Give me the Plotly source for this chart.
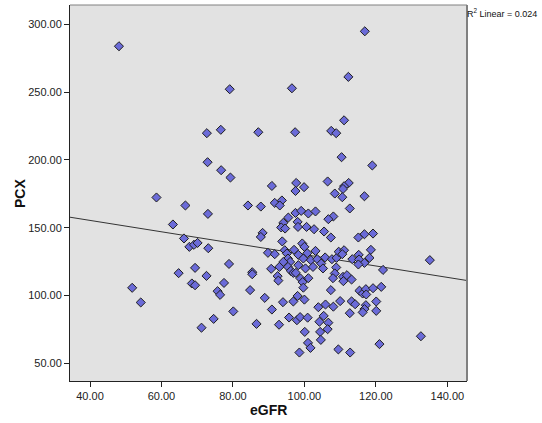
import plotly.graph_objects as go

# eGFR (x) and PCX (y) values
egfr = [48.1, 116.9, 79.1, 96.5, 112.3, 72.7, 76.6, 87.1, 97.4, 107.5, 108.9, 111.1,
        72.9, 76.7, 79.3, 110.4, 119.0, 90.9, 97.7, 97.5, 99.9, 106.5, 108.5, 112.4,
        111.1, 110.8, 110.6, 116.8, 58.6,
        84.2, 87.8, 91.7, 93.7, 93.1, 66.7, 112.7, 97.5, 99.1, 101.1, 103.1, 108.1,
        106.7, 95.5, 73.0, 63.2, 94.1, 98.1, 93.5, 94.6, 98.2, 100.6, 102.7, 105.5,
        107.4, 88.3, 87.8, 119.2, 116.8, 115.1, 66.3, 67.8, 69.1, 70.1, 73.1, 93.8,
        99.4, 100.0, 97.1, 94.5, 103.1, 89.8, 91.7, 95.1, 98.3, 100.8, 95.4, 99.7,
        101.8, 103.6, 105.8, 107.7, 109.0, 109.6, 118.6, 111.1, 110.6, 115.2, 113.4,
        115.3, 118.2, 116.8, 115.1, 135.1, 122.0, 108.9, 108.5, 108.0, 110.8, 111.9,
        113.2, 110.9, 96.0, 94.1, 93.0, 90.7, 95.4, 96.2, 96.9, 98.3, 100.3, 102.4,
        104.7, 105.2, 85.4, 85.4, 92.5, 97.6, 101.1, 98.9, 92.7, 99.5, 99.7, 84.8,
        107.4, 78.9, 64.8, 69.4, 72.6, 68.5, 69.4, 77.5, 51.8, 115.4, 116.3, 117.2,
        117.3, 119.2, 121.5,
        54.2, 75.7, 76.4, 80.1, 74.6, 71.2, 88.9, 90.9, 94.0, 86.6, 92.9, 95.7, 96.9,
        98.1, 100.0, 97.9, 98.8, 100.9, 100.1, 101.0, 101.7, 98.6, 103.9, 105.9, 108.1,
        105.4, 104.2, 106.7, 106.5, 104.4, 104.6, 109.5, 110.0, 113.2, 114.2, 112.7,
        117.2, 116.8, 116.3, 120.1, 120.1, 121.0, 132.6, 112.8]
pcx = [283.8, 294.8, 252.1, 252.8, 261.2, 219.7, 222.2, 220.4, 220.4, 221.4, 219.7, 229.2,
       198.3, 192.4, 187.0, 202.0, 195.9, 180.8, 183.0, 177.1, 179.9, 184.1, 175.2, 183.0,
       180.6, 178.6, 172.5, 173.2, 172.3,
       166.4, 165.6, 168.3, 170.1, 166.4, 166.4, 164.2, 160.9, 162.4, 160.5, 162.0, 158.3,
       156.3, 157.5, 160.2, 152.4, 153.6, 154.3, 150.2, 149.4, 150.6, 150.6, 148.9, 147.2,
       142.8, 146.2, 143.2, 145.7, 145.2, 142.8, 142.1, 135.9, 137.4, 138.8, 134.9, 139.9,
       138.4, 135.9, 133.7, 133.4, 132.9, 131.5, 130.5, 131.0, 130.0, 131.2, 127.3, 127.3,
       126.1, 126.8, 128.1, 126.8, 127.8, 132.3, 133.7, 133.4, 130.5, 130.0, 126.8,
       126.6, 127.8, 124.1, 122.9, 126.1, 118.9, 120.7, 116.3, 112.8, 113.8, 115.0,
       111.8, 110.6, 124.8, 124.8, 121.1, 119.7, 121.1, 118.2, 116.7, 122.4, 120.0, 121.1,
       123.6, 120.0, 117.2, 115.7, 114.3, 116.7, 112.8, 112.6, 111.0, 109.9, 105.8, 104.0,
       104.0, 123.3, 116.5, 120.4, 114.5, 108.9, 107.6, 109.3, 105.7, 103.6, 101.5, 104.7,
       100.8, 105.4, 106.4,
       94.9, 103.2, 100.5, 88.3, 82.8, 76.3, 98.3, 89.7, 95.1, 79.1, 78.5, 83.8, 95.6,
       99.7, 97.0, 81.8, 84.1, 83.7, 73.2, 65.1, 61.4, 58.0, 91.4, 93.4, 91.8,
       85.0, 80.7, 80.0, 75.2, 73.2, 67.3, 60.3, 95.9, 95.7, 93.6, 87.0,
       92.9, 90.0, 87.6, 95.6, 88.7, 64.2, 70.0, 58.0]

# Linear fit line
fit_intercept = 172.2
fit_slope = -0.42
r2_text = "R<sup>2</sup> Linear = 0.024"
x_title = "eGFR"
y_title = "PCX"

x_ticks = [40, 60, 80, 100, 120, 140]
y_ticks = [50, 100, 150, 200, 250, 300]
x_range = [34.4, 145.5]
y_range = [37.0, 314.2]

font_family = "Liberation Sans, Arial, sans-serif"

fig = go.Figure()

fig.add_trace(go.Scatter(
    x=x_range,
    y=[fit_intercept + fit_slope * v for v in x_range],
    mode="lines",
    line=dict(color="#333333", width=1),
    hoverinfo="skip",
    showlegend=False,
))

fig.add_trace(go.Scatter(
    x=egfr, y=pcx, mode="markers",
    marker=dict(symbol="diamond", size=7, color="#6b6bd8",
                line=dict(color="#1e1e1e", width=1)),
    showlegend=False,
))

fig.update_layout(
    width=542, height=423,
    margin=dict(l=70, r=75, t=5, b=42),
    paper_bgcolor="white",
    plot_bgcolor="#e2e2e2",
    font=dict(family=font_family, size=11, color="#222222"),
    xaxis=dict(range=x_range, tickvals=x_ticks, tickformat=".2f",
               showgrid=False, zeroline=False, showline=True,
               linecolor="#222222", linewidth=1, ticks="outside",
               ticklen=5, tickcolor="#222222"),
    yaxis=dict(range=y_range, tickvals=y_ticks, tickformat=".2f",
               showgrid=False, zeroline=False, showline=True,
               linecolor="#222222", linewidth=1, ticks="outside",
               ticklen=5, tickcolor="#222222"),
    shapes=[
        dict(type="line", xref="paper", yref="paper", x0=0, x1=1, y0=1, y1=1,
             line=dict(color="#808080", width=1)),
        dict(type="line", xref="paper", yref="paper", x0=1, x1=1, y0=0, y1=1,
             line=dict(color="#808080", width=2)),
    ],
    annotations=[
        dict(text="<b>" + x_title + "</b>", xref="paper", yref="paper",
             x=0.5, y=-0.077, xanchor="center", yanchor="middle", showarrow=False,
             font=dict(size=14, color="#111111", family=font_family)),
        dict(text="<b>" + y_title + "</b>", xref="paper", yref="paper",
             x=-0.126, y=0.5, xanchor="center", yanchor="middle",
             textangle=-90, showarrow=False,
             font=dict(size=14, color="#111111", family=font_family)),
        dict(text=r2_text, xref="paper", yref="paper", x=1.0, y=1.0,
             xanchor="left", yanchor="top", showarrow=False,
             xshift=-2,
             font=dict(size=9, color="#111111", family=font_family)),
    ],
)

fig.write_html("out.html",
               config={"displayModeBar": False},
               post_script="document.body.style.margin='0';"
                           "document.body.style.overflow='hidden';")
